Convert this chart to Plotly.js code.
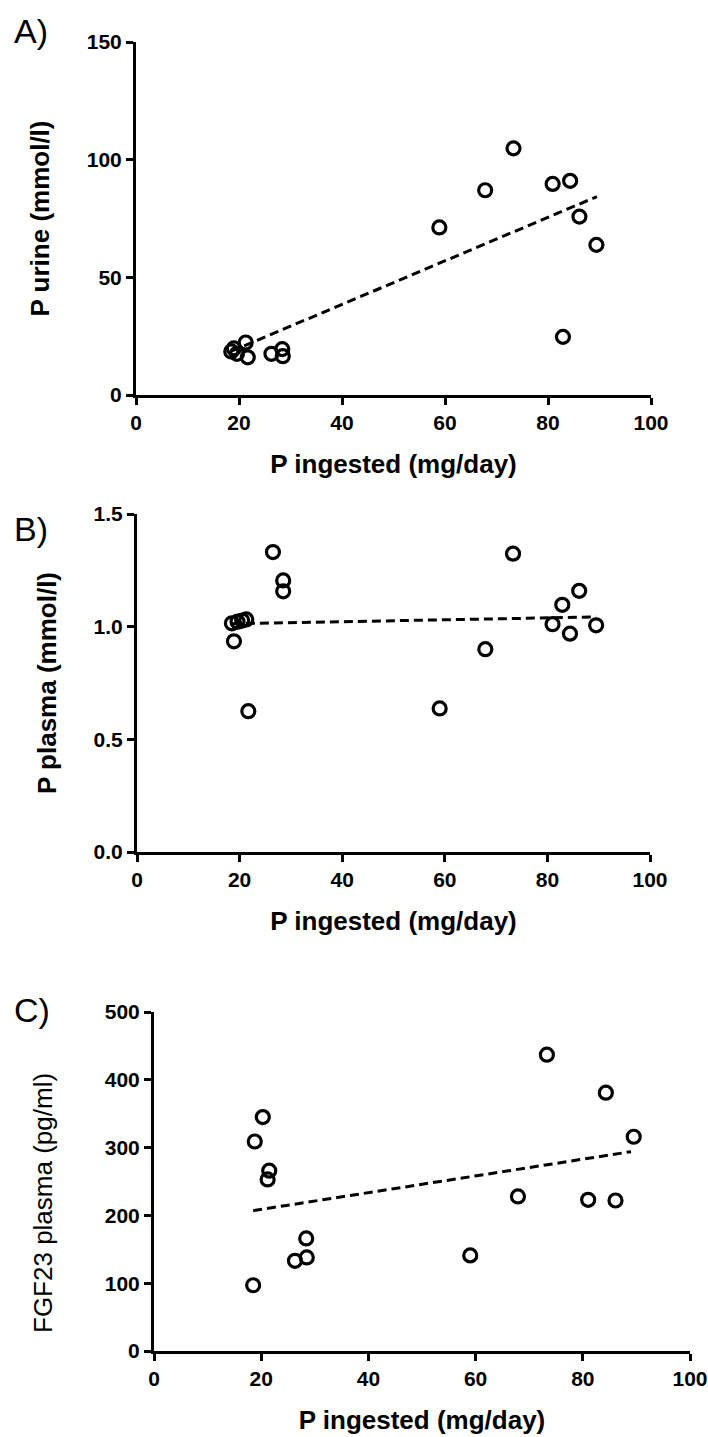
<!DOCTYPE html>
<html>
<head>
<meta charset="utf-8">
<script src="https://cdn.plot.ly/plotly-3.0.1.min.js"></script>
<style>
  html, body { margin: 0; padding: 0; background: #fff; }
  #chart { width: 708px; height: 1437px; }
</style>
</head>
<body>
<div id="chart"></div>
<script>
// ---- Data ----
const panelLabels = ["A)", "B)", "C)"];
const xTitle = "P ingested (mg/day)";
const yTitles = ["P urine (mmol/l)", "P plasma (mmol/l)", "FGF23 plasma (pg/ml)"];

const xA = [18.5, 19.0, 19.6, 21.3, 21.7, 26.3, 28.4, 28.5, 58.9, 67.8, 73.3, 80.9, 82.9, 84.3, 86.1, 89.4];
const yA = [18.5, 19.8, 17.5, 22.3, 16.0, 17.5, 19.5, 16.5, 71.2, 87.0, 104.8, 89.7, 24.7, 91.0, 75.8, 63.8];
const fitXA = [18.5, 89.5];
const fitYA = [18.6, 84.3];

const xB = [18.5, 18.9, 19.6, 20.5, 21.3, 21.7, 26.5, 28.5, 28.5, 59.0, 67.9, 73.3, 81.0, 82.9, 84.4, 86.2, 89.5];
const yB = [1.015, 0.935, 1.022, 1.027, 1.032, 0.625, 1.331, 1.205, 1.157, 0.637, 0.900, 1.324, 1.011, 1.097, 0.969, 1.159, 1.006];
const fitXB = [18.5, 89.5];
const fitYB = [1.013, 1.043];

const xC = [18.5, 18.8, 20.3, 21.2, 21.5, 26.3, 28.4, 28.5, 59.0, 67.9, 73.3, 81.0, 84.3, 86.1, 89.5];
const yC = [97, 309, 345, 253, 266, 133, 166, 138, 141, 228, 437, 223, 381, 222, 316];
const fitXC = [18.5, 89.0];
const fitYC = [207, 294];

const xTicks = [0, 20, 40, 60, 80, 100];
const yTicksA = [0, 50, 100, 150];
const yTicksB = [0, 0.5, 1.0, 1.5];
const yTickTextB = ["0.0", "0.5", "1.0", "1.5"];
const yTicksC = [0, 100, 200, 300, 400, 500];

// ---- Styles ----
const sans = "Liberation Sans, Arial, sans-serif";

function scatter(x, y, xa, ya) {
  return {
    x: x, y: y, xaxis: xa, yaxis: ya, type: "scatter", mode: "markers",
    cliponaxis: false, hoverinfo: "skip",
    marker: { symbol: "circle-open", size: 13, color: "#000", line: { width: 3.2, color: "#000" } }
  };
}
function fit(x, y, xa, ya) {
  return {
    x: x, y: y, xaxis: xa, yaxis: ya, type: "scatter", mode: "lines",
    cliponaxis: false, hoverinfo: "skip",
    line: { color: "#000", width: 3, dash: "9px,5px" }
  };
}

const data = [
  fit(fitXA, fitYA, "x", "y"), scatter(xA, yA, "x", "y"),
  fit(fitXB, fitYB, "x2", "y2"), scatter(xB, yB, "x2", "y2"),
  fit(fitXC, fitYC, "x3", "y3"), scatter(xC, yC, "x3", "y3")
];

const W = 708, H = 1437;
function xd(l, r) { return [l / W, r / W]; }
function yd(top, bottom) { return [1 - bottom / H, 1 - top / H]; }

function xAxis(domain, anchor) {
  return {
    domain: domain, anchor: anchor, range: [0, 100],
    tickmode: "array", tickvals: xTicks,
    showline: true, linecolor: "#000", linewidth: 3,
    ticks: "outside", ticklen: 7, tickwidth: 3, tickcolor: "#000",
    showgrid: false, zeroline: false, ticklabeloverflow: "allow",
    tickfont: { family: sans, size: 21, color: "#000", weight: "bold" },
    title: { text: xTitle, standoff: 22, font: { family: sans, size: 26, color: "#000", weight: "bold" } },
    fixedrange: true
  };
}
function yAxis(domain, anchor, range, vals, text, titleText, titleWeight, standoff, tsize) {
  const ax = {
    domain: domain, anchor: anchor, range: range,
    tickmode: "array", tickvals: vals,
    showline: true, linecolor: "#000", linewidth: 3,
    ticks: "outside", ticklen: 7, tickwidth: 3, tickcolor: "#000",
    showgrid: false, zeroline: false, ticklabeloverflow: "allow",
    tickfont: { family: sans, size: 21, color: "#000", weight: "bold" },
    fixedrange: true
  };
  if (titleText) ax.title = { text: titleText, standoff: standoff, font: { family: sans, size: tsize, color: "#000", weight: titleWeight } };
  if (text) ax.ticktext = text;
  return ax;
}

const layout = {
  width: W, height: H,
  margin: { l: 0, r: 0, t: 0, b: 0 },
  paper_bgcolor: "#fff", plot_bgcolor: "#fff",
  showlegend: false,
  xaxis: xAxis(xd(136, 651), "y"),
  yaxis: yAxis(yd(42, 395), "x", [0, 150], yTicksA, null, yTitles[0], "bold", 30, 26),
  xaxis2: xAxis(xd(137, 650), "y2"),
  yaxis2: yAxis(yd(514, 852), "x2", [0, 1.5], yTicksB, yTickTextB, yTitles[1], "bold", 30, 26),
  xaxis3: xAxis(xd(154, 690), "y3"),
  yaxis3: yAxis(yd(1012, 1351), "x3", [0, 500], yTicksC, null, null),
  annotations: [
    { text: panelLabels[0], xref: "paper", yref: "paper", x: 12 / W, y: 1 - 31 / H, xanchor: "left", yanchor: "middle", showarrow: false, font: { family: sans, size: 34, color: "#000" } },
    { text: panelLabels[1], xref: "paper", yref: "paper", x: 12 / W, y: 1 - 529 / H, xanchor: "left", yanchor: "middle", showarrow: false, font: { family: sans, size: 34, color: "#000" } },
    { text: panelLabels[2], xref: "paper", yref: "paper", x: 12 / W, y: 1 - 1010 / H, xanchor: "left", yanchor: "middle", showarrow: false, font: { family: sans, size: 34, color: "#000" } },
    { text: yTitles[2], xref: "paper", yref: "paper", x: 43 / W, y: 1 - 1203 / H, xanchor: "center", yanchor: "middle", textangle: -90, showarrow: false, font: { family: sans, size: 26, color: "#000" } }
  ]
};

Plotly.newPlot("chart", data, layout, { staticPlot: true, displayModeBar: false });
</script>
</body>
</html>
